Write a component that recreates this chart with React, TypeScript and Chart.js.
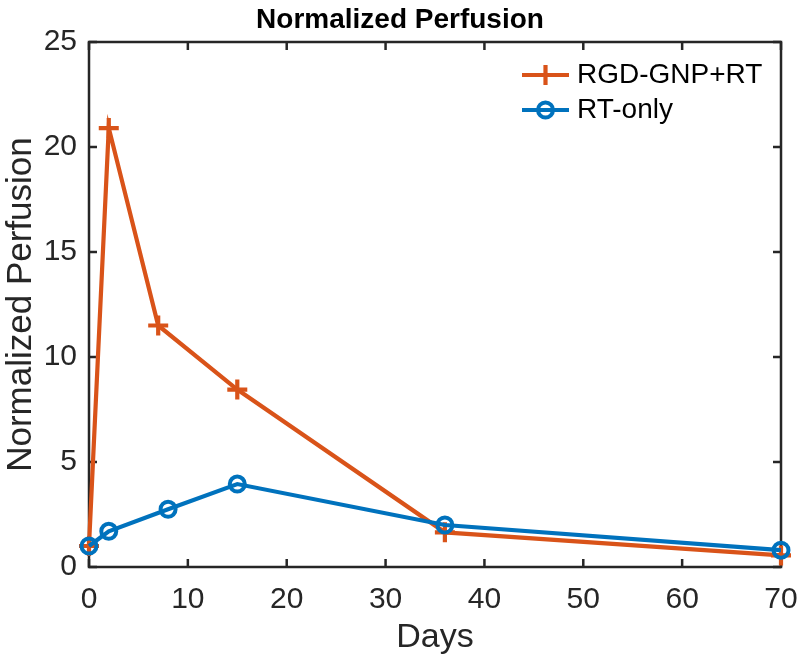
import React, { useEffect, useRef } from "react";
import { Chart, registerables } from "chart.js";

Chart.register(...registerables);

// ---- Data ----
const rgdDays = [0, 2, 7, 15, 36, 70];
const rgdValues = [1.0, 20.9, 11.5, 8.45, 1.65, 0.55];
const rtDays = [0, 2, 8, 15, 36, 70];
const rtValues = [1.0, 1.7, 2.75, 3.95, 2.0, 0.8];
const xTicks = [0, 10, 20, 30, 40, 50, 60, 70];
const yTicks = [0, 5, 10, 15, 20, 25];
const seriesLabels = ["RGD-GNP+RT", "RT-only"];
const titleText = "Normalized Perfusion";
const xLabel = "Days";
const yLabel = "Normalized Perfusion";

const ORANGE = "#D95319";
const BLUE = "#0072BD";
const AXIS = "#262626";
const FONT = "'Liberation Sans', Arial, Helvetica, sans-serif";

const framePlugin = {
  id: "matlabFrame",
  beforeDatasetsDraw(chart: any) {
    const { ctx, chartArea: a, scales } = chart;
    ctx.save();
    ctx.strokeStyle = AXIS;
    ctx.lineWidth = 2.5;
    ctx.strokeRect(a.left, a.top, a.right - a.left, a.bottom - a.top);
    const tl = 8;
    ctx.beginPath();
    xTicks.forEach((v) => {
      const px = scales.x.getPixelForValue(v);
      ctx.moveTo(px, a.bottom);
      ctx.lineTo(px, a.bottom - tl);
      ctx.moveTo(px, a.top);
      ctx.lineTo(px, a.top + tl);
    });
    yTicks.forEach((v) => {
      const py = scales.y.getPixelForValue(v);
      ctx.moveTo(a.left, py);
      ctx.lineTo(a.left + tl, py);
      ctx.moveTo(a.right, py);
      ctx.lineTo(a.right - tl, py);
    });
    ctx.stroke();
    ctx.restore();
  },
};

const legendPlugin = {
  id: "matlabLegend",
  afterDraw(chart: any) {
    const { ctx, chartArea: a } = chart;
    const items = [
      { label: seriesLabels[0], color: ORANGE, style: "cross" },
      { label: seriesLabels[1], color: BLUE, style: "circle" },
    ];
    const x0 = a.right - 259;
    const x1 = a.right - 212;
    const xm = (x0 + x1) / 2;
    const tx = a.right - 204;
    ctx.save();
    items.forEach((it, i) => {
      const y = a.top + 33 + i * 35;
      ctx.strokeStyle = it.color;
      ctx.lineWidth = 4.2;
      ctx.beginPath();
      ctx.moveTo(x0, y);
      ctx.lineTo(x1, y);
      ctx.stroke();
      ctx.beginPath();
      if (it.style === "cross") {
        ctx.moveTo(xm - 10, y);
        ctx.lineTo(xm + 10, y);
        ctx.moveTo(xm, y - 10);
        ctx.lineTo(xm, y + 10);
      } else {
        ctx.lineWidth = 4;
        ctx.arc(xm, y, 7.5, 0, Math.PI * 2);
      }
      ctx.stroke();
      ctx.fillStyle = "#000";
      ctx.font = `28px ${FONT}`;
      ctx.textAlign = "left";
      ctx.textBaseline = "middle";
      ctx.fillText(it.label, tx, y);
    });
    ctx.restore();
  },
};

export default function App() {
  const ref = useRef<HTMLCanvasElement>(null);

  useEffect(() => {
    if (!ref.current) return;
    const chart = new Chart(ref.current, {
      type: "line",
      data: {
        datasets: [
          {
            label: seriesLabels[0],
            data: rgdDays.map((d, i) => ({ x: d, y: rgdValues[i] })),
            borderColor: ORANGE,
            backgroundColor: ORANGE,
            borderWidth: 4.2,
            pointStyle: "cross",
            pointRadius: 10,
            pointBorderWidth: 4.2,
            pointBorderColor: ORANGE,
            pointBackgroundColor: ORANGE,
            tension: 0,
            clip: false as any,
            order: 1,
          },
          {
            label: seriesLabels[1],
            data: rtDays.map((d, i) => ({ x: d, y: rtValues[i] })),
            borderColor: BLUE,
            backgroundColor: BLUE,
            borderWidth: 4.2,
            pointStyle: "circle",
            pointRadius: 7.5,
            pointBorderWidth: 4,
            pointBorderColor: BLUE,
            pointBackgroundColor: "rgba(0,0,0,0)",
            tension: 0,
            clip: false as any,
            order: 0,
          },
        ],
      },
      options: {
        responsive: false,
        animation: false,
        layout: { padding: { left: 0, right: 0, top: 0, bottom: 0 }, autoPadding: false } as any,
        plugins: {
          legend: { display: false },
          tooltip: { enabled: false },
          title: {
            display: true,
            text: titleText,
            color: "#000",
            font: { family: FONT, size: 28, weight: "bold" },
            padding: { top: 3, bottom: 5.4 },
          },
        },
        scales: {
          x: {
            type: "linear",
            min: 0,
            max: 70,
            afterBuildTicks: (s: any) => {
              s.ticks = xTicks.map((v) => ({ value: v }));
            },
            afterFit: (s: any) => {
              s.height = 94;
            },
            ticks: {
              color: AXIS,
              font: { family: FONT, size: 30 },
              padding: 0,
              maxRotation: 0,
              autoSkip: false,
            },
            grid: { display: false, drawTicks: true, tickLength: 15 },
            border: { display: false },
            title: {
              display: true,
              text: xLabel,
              color: AXIS,
              font: { family: FONT, size: 34 },
              padding: { top: 0, bottom: 2.6 },
            },
          },
          y: {
            type: "linear",
            position: "left",
            min: 0,
            max: 25,
            afterBuildTicks: (s: any) => {
              s.ticks = yTicks.map((v) => ({ value: v }));
            },
            afterFit: (s: any) => {
              s.width = 89;
            },
            ticks: {
              color: AXIS,
              font: { family: FONT, size: 30 },
              padding: 0,
              autoSkip: false,
            },
            grid: { display: false, drawTicks: true, tickLength: 12 },
            border: { display: false },
            title: {
              display: true,
              text: yLabel,
              color: AXIS,
              font: { family: FONT, size: 35 },
              padding: { top: 0, bottom: 0 },
            },
          },
          yRight: {
            type: "linear",
            position: "right",
            min: 0,
            max: 1,
            display: true,
            afterFit: (s: any) => {
              s.width = 19;
            },
            ticks: { display: false },
            grid: { display: false, drawTicks: false },
            border: { display: false },
          },
        },
      } as any,
      plugins: [framePlugin, legendPlugin],
    });
    return () => chart.destroy();
  }, []);

  return (
    <div style={{ position: "fixed", left: 0, top: 0, width: 800, height: 661, background: "#fff" }}>
      <canvas ref={ref} width={800} height={661} style={{ display: "block" }} />
    </div>
  );
}
